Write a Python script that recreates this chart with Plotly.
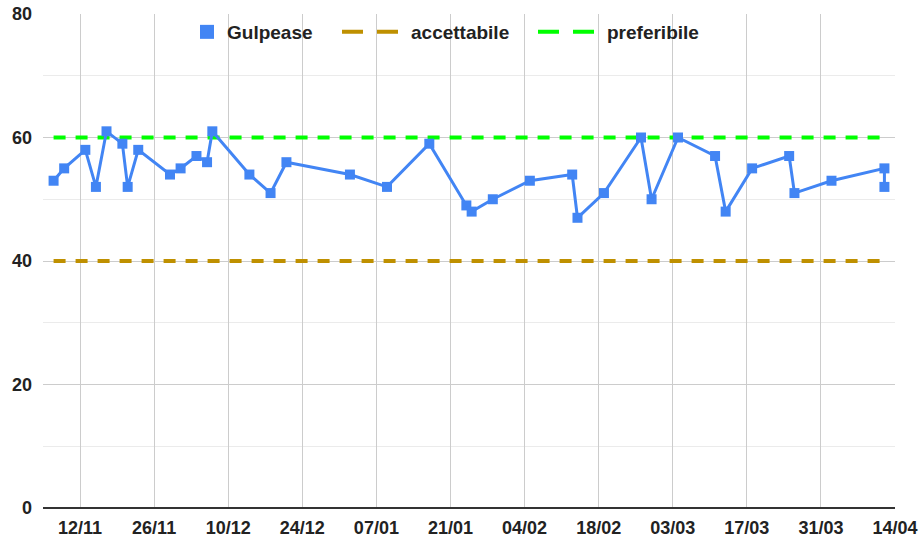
import plotly.graph_objects as go

dates = [
    "2023-11-07", "2023-11-09", "2023-11-13", "2023-11-15", "2023-11-17",
    "2023-11-20", "2023-11-21", "2023-11-23", "2023-11-29", "2023-12-01",
    "2023-12-04", "2023-12-06", "2023-12-07", "2023-12-14", "2023-12-18",
    "2023-12-21", "2024-01-02", "2024-01-09", "2024-01-17", "2024-01-24",
    "2024-01-25", "2024-01-29", "2024-02-05", "2024-02-13", "2024-02-14",
    "2024-02-19", "2024-02-26", "2024-02-28", "2024-03-04", "2024-03-11",
    "2024-03-13", "2024-03-18", "2024-03-25", "2024-03-26", "2024-04-02",
    "2024-04-12", "2024-04-12",
]
gulpease = [
    53, 55, 58, 52, 61,
    59, 52, 58, 54, 55,
    57, 56, 61, 54, 51,
    56, 54, 52, 59, 49,
    48, 50, 53, 54, 47,
    51, 60, 50, 60, 57,
    48, 55, 57, 51, 53,
    55, 52,
]
accettabile_value = 40
preferibile_value = 60
accettabile = [accettabile_value for _ in dates]
preferibile = [preferibile_value for _ in dates]

x_range = ["2023-11-05", "2024-04-14"]
x_tick_start = "2023-11-12"
y_ticks = [0, 20, 40, 60, 80]

FONT = "Liberation Sans, Arial, sans-serif"
BLUE = "#4285F4"
GOLD = "#BF9000"
GREEN = "#00FF00"
TEXT = "#222222"

fig = go.Figure()
fig.add_trace(go.Scatter(
    x=dates, y=accettabile, name="accettabile", mode="lines", showlegend=False,
    line=dict(color=GOLD, width=4, dash="12px,10px"),
))
fig.add_trace(go.Scatter(
    x=dates, y=preferibile, name="preferibile", mode="lines", showlegend=False,
    line=dict(color=GREEN, width=4, dash="12px,10px"),
))
fig.add_trace(go.Scatter(
    x=dates, y=gulpease, name="Gulpease", mode="lines+markers", showlegend=False,
    line=dict(color=BLUE, width=3),
    marker=dict(symbol="square", size=10, color=BLUE),
))

# legend-only entries
fig.add_trace(go.Scatter(
    x=[None], y=[None], name="Gulpease", mode="markers", legend="legend",
    marker=dict(symbol="square", size=14, color=BLUE),
))
fig.add_trace(go.Scatter(
    x=[None], y=[None], name="accettabile", mode="lines", legend="legend2",
    line=dict(color=GOLD, width=4, dash="21px,14px"),
))
fig.add_trace(go.Scatter(
    x=[None], y=[None], name="preferibile", mode="lines", legend="legend3",
    line=dict(color=GREEN, width=4, dash="21px,14px"),
))

PLOT_L, PLOT_R, PLOT_T, PLOT_B = 43, 895, 14, 508
W, H = 923, 541
pw = PLOT_R - PLOT_L
ph = PLOT_B - PLOT_T
leg_y = (PLOT_B - 32) / ph

def leg(px, iw):
    return dict(
        orientation="h", x=(px - PLOT_L) / pw, xanchor="left", y=leg_y, yanchor="middle",
        font=dict(family=FONT, size=19, color=TEXT, weight="bold"),
        bgcolor="rgba(0,0,0,0)", itemwidth=iw, borderwidth=0,
    )

fig.update_layout(
    width=W, height=H,
    margin=dict(l=PLOT_L, r=W - PLOT_R, t=PLOT_T, b=H - PLOT_B, autoexpand=False),
    paper_bgcolor="white", plot_bgcolor="white",
    font=dict(family=FONT, size=18, color=TEXT, weight="bold"),
    showlegend=True,
    legend=leg(187, 30),
    legend2=leg(337, 64),
    legend3=leg(533, 64),
    xaxis=dict(
        type="date", range=x_range, tick0=x_tick_start, dtick=14 * 24 * 3600 * 1000,
        tickformat="%d/%m", showgrid=True, gridcolor="#cccccc", gridwidth=1,
        zeroline=False, showline=False, ticks="", ticklabelstandoff=7,
    ),
    yaxis=dict(
        range=[0, 80], tickvals=y_ticks, showgrid=True, gridcolor="#cccccc",
        gridwidth=1, zeroline=True, zerolinecolor="#333333", zerolinewidth=1.5,
        showline=False, ticks="", ticklabelstandoff=10,
        minor=dict(dtick=10, showgrid=True, gridcolor="#ebebeb", gridwidth=1),
    ),
)

fig.write_html(
    "out.html",
    config={"displayModeBar": False},
    post_script="document.body.style.margin='0';document.body.style.overflow='hidden';",
)
